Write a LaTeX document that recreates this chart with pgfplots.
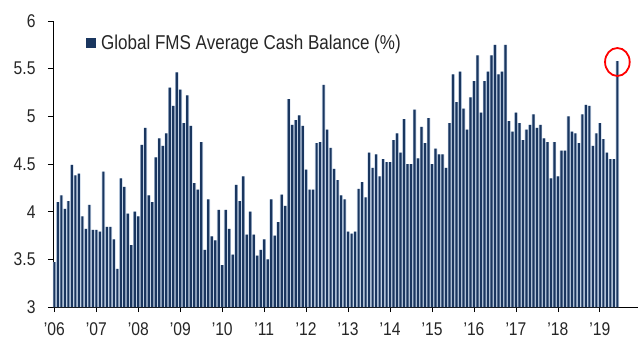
\documentclass[border=0pt]{standalone}
\usepackage{fontspec}
\setmainfont{Liberation Sans}[FakeStretch=0.85]
\usepackage{pgfplots}
\pgfplotsset{compat=1.18}
\usepackage{pgfplotstable}
\definecolor{navy}{HTML}{1A365F}
\definecolor{gapblue}{HTML}{C3D3E6}

\pgfplotstableread{
n v
0 3.47
1 4.10
2 4.17
3 4.03
4 4.11
5 4.49
6 4.38
7 4.40
8 3.95
9 3.82
10 4.07
11 3.81
12 3.81
13 3.79
14 4.42
15 3.84
16 3.84
17 3.71
18 3.40
19 4.35
20 4.26
21 3.98
22 3.65
23 4.00
24 3.95
25 4.70
26 4.88
27 4.17
28 4.10
29 4.57
30 4.77
31 4.69
32 4.82
33 5.30
34 5.11
35 5.46
36 5.28
37 4.93
38 5.22
39 4.90
40 4.30
41 4.23
42 4.73
43 3.60
44 4.13
45 3.74
46 3.70
47 4.02
48 3.44
49 4.02
50 3.82
51 3.55
52 4.28
53 4.11
54 4.37
55 3.76
56 4.00
57 3.76
58 3.54
59 3.60
60 3.71
61 3.50
62 4.13
63 3.75
64 3.89
65 4.18
66 4.06
67 5.18
68 4.91
69 4.96
70 5.01
71 4.90
72 4.44
73 4.23
74 4.23
75 4.72
76 4.73
77 5.33
78 4.86
79 4.67
80 4.45
81 4.33
82 4.17
83 4.13
84 3.79
85 3.77
86 3.79
87 4.24
88 4.31
89 4.15
90 4.62
91 4.46
92 4.60
93 4.37
94 4.55
95 4.52
96 4.52
97 4.75
98 4.82
99 4.62
100 4.97
101 4.50
102 4.50
103 5.07
104 4.56
105 4.89
106 4.72
107 4.98
108 4.50
109 4.66
110 4.60
111 4.60
112 4.46
113 4.93
114 5.44
115 5.15
116 5.47
117 5.08
118 4.86
119 5.20
120 5.37
121 5.64
122 5.04
123 5.37
124 5.47
125 5.64
126 5.75
127 5.44
128 5.47
129 5.75
130 4.95
131 4.84
132 5.04
133 4.93
134 4.75
135 4.86
136 4.91
137 5.02
138 4.88
139 4.91
140 4.77
141 4.73
142 4.35
143 4.73
144 4.37
145 4.64
146 4.64
147 5.00
148 4.84
149 4.82
150 4.72
151 5.02
152 5.12
153 5.11
154 4.69
155 4.82
156 4.93
157 4.76
158 4.62
159 4.55
160 4.55
161 5.58
}\fms

\begin{document}
\begin{tikzpicture}
\begin{axis}[
  scale only axis, width=585bp, height=286bp,
  xmin=-0.4, xmax=166.9, ymin=3, ymax=6,
  axis x line*=bottom, axis y line*=left,
  axis line style={-, black, line width=0.8bp},
  xtick={0,12,24,36,48,60,72,84,96,108,120,132,144,156},
  xticklabels={'06,'07,'08,'09,'10,'11,'12,'13,'14,'15,'16,'17,'18,'19},
  ytick={3,3.5,4,4.5,5,5.5,6},
  yticklabels={3,3.5,4,4.5,5,5.5,6},
  xtick pos=bottom, ytick pos=left,
  tick align=outside, major tick length=5bp,
  tick style={black, line width=0.8bp},
  tick label style={font=\fontsize{18.5}{20}\selectfont, text=black!85},
  xticklabel style={yshift=-7bp},
  yticklabel style={xshift=-9bp},
  legend style={draw=none, fill=none, at={(0.0555,0.923)}, anchor=west,
    font=\fontsize{20.1}{22}\selectfont, text=black!85, inner sep=0pt,
    nodes={inner sep=0pt, inner xsep=5.5bp}},
  legend cell align=left,
  clip=true,
]
\addplot[ybar, bar shift=0pt, bar width=1, fill=gapblue, draw=none, forget plot]
  table[x=n, y=v] {\fms};
\addplot[ybar, bar shift=0pt, bar width=0.62, fill=navy, draw=none,
  legend image code/.code={\fill[navy] (0bp,-5bp) rectangle (10bp,5bp);}]
  table[x=n, y=v] {\fms};
\addlegendentry{Global FMS Average Cash Balance (\%)}
\addplot[only marks, mark=o, mark size=14bp, forget plot,
  mark options={draw=red, line width=1.8bp, xscale=0.88}]
  coordinates {(161,5.57)};
\end{axis}
\pgfresetboundingbox
\useasboundingbox (current axis.south west) ++(-53bp,-46bp) rectangle ++(640bp,353bp);
\end{tikzpicture}
\end{document}
